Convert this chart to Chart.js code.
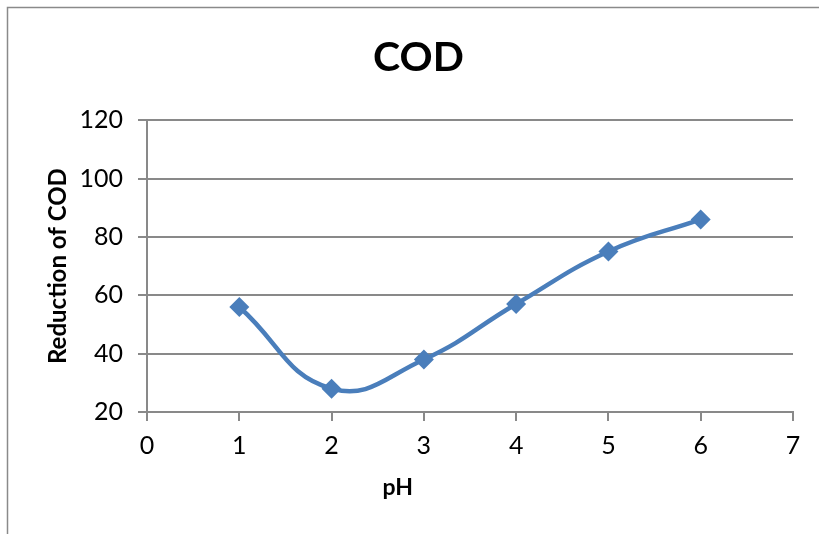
<!DOCTYPE html>
<html>
<head>
<meta charset="utf-8">
<script src="https://cdn.jsdelivr.net/npm/chart.js@4.4.0/dist/chart.umd.min.js"></script>
<style>
  html, body { margin: 0; padding: 0; background: #ffffff; }
  #wrap { width: 819px; height: 534px; position: relative; }
</style>
</head>
<body>
<div id="wrap"><canvas id="c" width="819" height="534"></canvas></div>
<script>
// ---- data ----
const phValues = [1, 2, 3, 4, 5, 6];
const codReduction = [56, 28, 38, 57, 75, 86];
const xTickRange = [0, 7];
const yTickRange = [20, 120];
const yTickStep = 20;
const chartTitle = 'COD';
const xAxisTitle = 'pH';
const yAxisTitle = 'Reduction of COD';

const FONT = 'Lato, "Open Sans", sans-serif';
const GRID = '#898989';
const BLUE = '#4a7ebb';

const framePlugin = {
  id: 'frame',
  beforeDraw(chart) {
    const ctx = chart.ctx;
    ctx.save();
    ctx.fillStyle = '#ffffff';
    ctx.fillRect(0, 0, chart.width, chart.height);
    ctx.strokeStyle = '#8a8a8a';
    ctx.lineWidth = 1.5;
    ctx.beginPath();
    ctx.moveTo(7.5, chart.height);
    ctx.lineTo(7.5, 7.5);
    ctx.lineTo(chart.width, 7.5);
    ctx.stroke();
    ctx.restore();
  }
};

const xTitlePlugin = {
  id: 'xTitle',
  afterDraw(chart) {
    const ctx = chart.ctx;
    const a = chart.chartArea;
    ctx.save();
    ctx.font = 'bold 23px ' + FONT;
    ctx.fillStyle = '#000000';
    ctx.textAlign = 'center';
    ctx.textBaseline = 'middle';
    ctx.fillText(xAxisTitle, a.left + (a.right - a.left) * 0.388, a.bottom + 76);
    ctx.restore();
  }
};

new Chart(document.getElementById('c'), {
  type: 'scatter',
  data: {
    datasets: [{
      label: yAxisTitle,
      data: phValues.map((x, i) => ({ x: x, y: codReduction[i] })),
      showLine: true,
      borderColor: BLUE,
      backgroundColor: BLUE,
      borderWidth: 4.5,
      tension: 0.45,
      pointStyle: 'rectRot',
      pointRadius: 10,
      pointHoverRadius: 10,
      pointBorderWidth: 0
    }]
  },
  options: {
    responsive: false,
    animation: false,
    layout: { padding: { left: 44, right: 26, top: 0, bottom: 0 } },
    plugins: {
      legend: { display: false },
      tooltip: { enabled: false },
      title: {
        display: true,
        text: chartTitle,
        color: '#000000',
        font: { family: FONT, size: 41, weight: 'bold', lineHeight: 1.2 },
        padding: { top: 33, bottom: 38 }
      }
    },
    scales: {
      x: {
        type: 'linear',
        min: xTickRange[0],
        max: xTickRange[1],
        afterFit(s) { s.height = 122; },
        ticks: { stepSize: 1, color: '#000000', padding: 10, font: { family: FONT, size: 25 } },
        grid: { drawOnChartArea: false, drawTicks: true, tickLength: 9, color: GRID, lineWidth: 2 },
        border: { color: GRID, width: 2 },
        title: { display: false }
      },
      y: {
        min: yTickRange[0],
        max: yTickRange[1],
        afterFit(s) { s.width = 103; },
        ticks: { stepSize: yTickStep, color: '#000000', padding: 15, font: { family: FONT, size: 25 } },
        grid: { color: GRID, lineWidth: 2, tickLength: 9, drawTicks: true },
        border: { color: GRID, width: 2 },
        title: {
          display: true,
          text: yAxisTitle,
          color: '#000000',
          font: { family: FONT, size: 24, weight: 'bold', lineHeight: 1.2 },
          padding: { top: 0, bottom: 0 }
        }
      }
    }
  },
  plugins: [framePlugin, xTitlePlugin]
});
</script>
</body>
</html>
